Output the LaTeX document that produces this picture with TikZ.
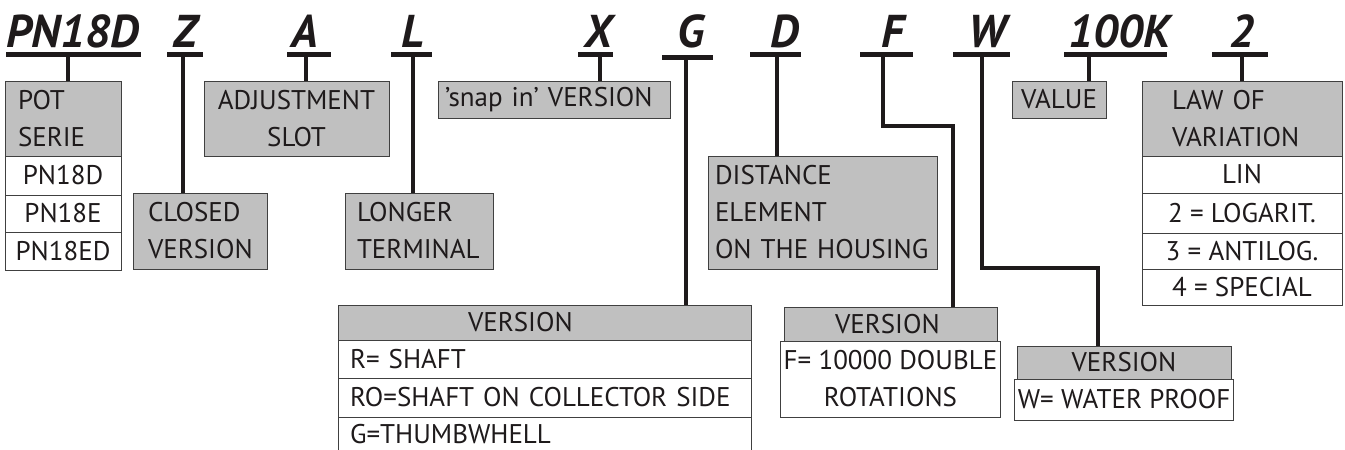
\documentclass[tikz,border=0pt]{standalone}
\usepackage{fontspec}
\setmainfont{PT Sans}
\usepackage{tikz}
\usepackage{color}
\definecolor{boxgray}{RGB}{192,192,192}
\definecolor{ink}{RGB}{30,26,27}

\begin{document}
\begin{tikzpicture}[%
      x=1pt, y=-1pt,
      code/.style={font=\fontsize{46}{46}\selectfont\bfseries\itshape, text=ink, inner sep=0pt, anchor=base},
      bar/.style={color=ink, line width=5pt},
      stem/.style={color=ink, line width=4.5pt},
      head/.style={draw=black!75, line width=0.8pt, fill=boxgray, inner ysep=0pt, text=ink, font=\fontsize{27}{37}\selectfont},
      row/.style={draw=black!75, line width=0.8pt, fill=white, inner ysep=0pt, text=ink, font=\fontsize{27}{37}\selectfont},
      ]
      \useasboundingbox (0,0) rectangle (1345,450);
      \clip (0,0) rectangle (1345,450);

      \node [code] (pn) at (72.5,47) {PN18D};
      \node [code] (z) at (185,47) {Z};
      \node [code] (a) at (305,47) {A};
      \node [code] (l) at (413,47) {L};
      \node [code] (x) at (598,47) {X};
      \node [code] (g) at (691,47) {G};
      \node [code] (d) at (785,47) {D};
      \node [code] (f) at (893,47) {F};
      \node [code] (w) at (987,47) {W};
      \node [code] (k) at (1120,47) {100K};
      \node [code] (two) at (1242,47) {2};

      \draw [bar] (6,54.5) -- (141,54.5);
      \draw [bar] (167,54.5) -- (203,54.5);
      \draw [bar] (287,54.5) -- (331,54.5);
      \draw [bar] (391,54.5) -- (432,54.5);
      \draw [bar] (578,54.5) -- (613,54.5);
      \draw [bar] (662,57) -- (713,57);
      \draw [bar] (750,54.5) -- (801,54.5);
      \draw [bar] (860,54.5) -- (913,54.5);
      \draw [bar] (953,54.5) -- (1010,54.5);
      \draw [bar] (1064,54.5) -- (1167,54.5);
      \draw [bar] (1212,54.5) -- (1268,54.5);

      \node [head, text width=90, inner xsep=13, align=left, minimum height=75] (pot) at (63,118.5) {POT\\SERIE};
      \node [row, minimum width=116, minimum height=39] (pna) at (63,175.5) {PN18D};
      \node [row, minimum width=116, minimum height=37] (pnb) at (63,213.5) {PN18E};
      \node [row, minimum width=116, minimum height=38] (pnc) at (63,251) {PN18ED};

      \node [head, text width=104, inner xsep=15, align=left, minimum height=76] (closed) at (200,231) {CLOSED\\VERSION};
      \node [head, text width=165, inner xsep=10, align=center, minimum height=75] (adjust) at (296.5,118.5) {ADJUSTMENT\\SLOT};
      \node [head, text width=124, inner xsep=12, align=left, minimum height=76] (longer) at (419,231) {LONGER\\TERMINAL};
      \node [head, text width=218, inner xsep=7, align=left, minimum height=37] (snap) at (554,99.5) {’snap in’ VERSION};
      \node [head, text width=215, inner xsep=7, align=left, minimum height=113] (dist) at (822.5,212.5) {DISTANCE\\ELEMENT\\\mbox{ON THE HOUSING}};
      \node [head, minimum width=94, minimum height=37] (value) at (1059,99.5) {VALUE};

      \node [head, text width=140, inner xsep=30, align=left, minimum height=75] (law) at (1242,118.5) {LAW OF\\VARIATION};
      \node [row, minimum width=200, minimum height=37] (lin) at (1242,174.5) {LIN};
      \node [row, minimum width=200, minimum height=40] (log) at (1242,213) {2 = LOGARIT.};
      \node [row, minimum width=200, minimum height=36] (alog) at (1242,251) {3 = ANTILOG.};
      \node [row, minimum width=200, minimum height=36] (spec) at (1242,287) {4 = SPECIAL};

      \node [head, text width=153, inner xsep=130, align=left, minimum height=35] (gver) at (544.5,322.5) {VERSION};
      \node [row, text width=389, inner xsep=12, align=left, minimum height=38] (gr) at (544.5,359) {R= SHAFT};
      \node [row, text width=389, inner xsep=12, align=left, minimum height=39] (gro) at (544.5,397.5) {RO=SHAFT ON COLLECTOR SIDE};
      \node [row, text width=389, inner xsep=12, align=left, minimum height=34] (gg) at (544.5,434) {G=THUMBWHELL};

      \node [head, text width=111, inner xsep=51, align=left, minimum height=34] (fver) at (890.5,324) {VERSION};
      \node [row, minimum width=213, align=center, minimum height=76] (ff) at (890.5,379) {F= 10000 DOUBLE\\ROTATIONS};

      \node [head, minimum width=214, minimum height=33] (wver) at (1124,362.5) {VERSION};
      \node [row, minimum width=214, minimum height=41] (ww) at (1124,399.5) {W= WATER PROOF};

      \coordinate (pns) at (68,54.5);
      \coordinate (zs) at (183,54.5);
      \coordinate (as) at (306,54.5);
      \coordinate (ls) at (413,54.5);
      \coordinate (xs) at (600,54.5);
      \coordinate (gs) at (686,57);
      \coordinate (ds) at (777,54.5);
      \coordinate (fs) at (883,54.5);
      \coordinate (fa) at (883,126);
      \coordinate (fb) at (953,126);
      \coordinate (ws) at (982,54.5);
      \coordinate (wa) at (982,268);
      \coordinate (wb) at (1098,268);
      \coordinate (ks) at (1089,54.5);
      \coordinate (twos) at (1242,54.5);

      \draw [stem] (pns) -- (pns |- pot.north);
      \draw [stem] (zs) -- (zs |- closed.north);
      \draw [stem] (as) -- (as |- adjust.north);
      \draw [stem] (ls) -- (ls |- longer.north);
      \draw [stem] (xs) -- (xs |- snap.north);
      \draw [stem] (gs) -- (gs |- gver.north);
      \draw [stem] (ds) -- (ds |- dist.north);
      \draw [stem] (fs) -- (fa) -- (fb) -- (fb |- fver.north);
      \draw [stem] (ws) -- (wa) -- (wb) -- (wb |- wver.north);
      \draw [stem] (ks) -- (ks |- value.north);
      \draw [stem] (twos) -- (twos |- law.north);
\end{tikzpicture}
\end{document}
